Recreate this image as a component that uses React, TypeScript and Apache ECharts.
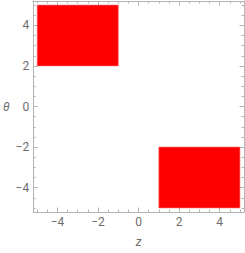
import React, { useEffect, useRef } from "react";
import * as echarts from "echarts";

const zMin = [-5, 1];
const zMax = [-1, 5];
const thetaMin = [2, -5];
const thetaMax = [5, -2];
const majorTicks = [-4, -2, 0, 2, 4];
const minorTicks = [-5, -4.5, -3.5, -3, -2.5, -1.5, -1, -0.5, 0.5, 1, 1.5, 2.5, 3, 3.5, 4.5, 5];

const FRAME = "#b4b4b4";
const LABEL = "#6e6e6e";
const FONT = "Roboto";

function fmt(v: number) {
  return String(v).replace("-", "\u2212");
}

function axisSet(dim: "x" | "y") {
  const pos = dim === "x" ? ["bottom", "top"] : ["left", "right"];
  const list: any[] = [];
  pos.forEach((p, i) => {
    list.push({
      type: "value",
      min: -5.2,
      max: 5.2,
      position: p,
      axisLine: { show: true, onZero: false, lineStyle: { color: FRAME, width: 1 } },
      axisTick: { show: true, inside: true, length: 4.5, customValues: majorTicks, lineStyle: { color: FRAME } },
      axisLabel: i === 0
        ? { show: true, customValues: majorTicks, formatter: fmt, color: LABEL, fontSize: 12, fontFamily: FONT, margin: 4 }
        : { show: false },
      splitLine: { show: false },
      ...(i === 0
        ? dim === "x"
          ? { name: "z", nameLocation: "middle", nameGap: 24, nameTextStyle: { color: LABEL, fontSize: 12, fontStyle: "italic", fontFamily: FONT } }
          : { name: "\u03b8", nameLocation: "middle", nameGap: 20, nameRotate: 0, nameTextStyle: { color: LABEL, fontSize: 12, fontStyle: "italic", fontFamily: FONT } }
        : {}),
    });
    list.push({
      type: "value",
      min: -5.2,
      max: 5.2,
      position: p,
      axisLine: { show: false, onZero: false },
      axisTick: { show: true, inside: true, length: 2.5, customValues: minorTicks, lineStyle: { color: FRAME } },
      axisLabel: { show: false },
      splitLine: { show: false },
    });
  });
  return list;
}

export default function App() {
  const ref = useRef<HTMLDivElement>(null);
  useEffect(() => {
    document.body.style.margin = "0";
    const chart = echarts.init(ref.current!, null, { renderer: "svg" });
    const data = zMin.map((z, i) => [z, zMax[i], thetaMin[i], thetaMax[i]]);
    chart.setOption({
      animation: false,
      grid: { left: 31, right: 1, top: 1, bottom: 39 },
      xAxis: axisSet("x"),
      yAxis: axisSet("y"),
      series: [
        {
          type: "custom",
          xAxisIndex: 0,
          yAxisIndex: 0,
          data,
          encode: { x: [0, 1], y: [2, 3] },
          renderItem: (params: any, api: any) => {
            const p1 = api.coord([api.value(0), api.value(3)]);
            const p2 = api.coord([api.value(1), api.value(2)]);
            return {
              type: "rect",
              shape: { x: p1[0], y: p1[1], width: p2[0] - p1[0], height: p2[1] - p1[1] },
              style: { fill: "#ff0000", stroke: "#ff6b6b", lineWidth: 0.6 },
            };
          },
        },
      ],
    });
    return () => chart.dispose();
  }, []);
  return <div ref={ref} style={{ width: 245, height: 253 }} />;
}
